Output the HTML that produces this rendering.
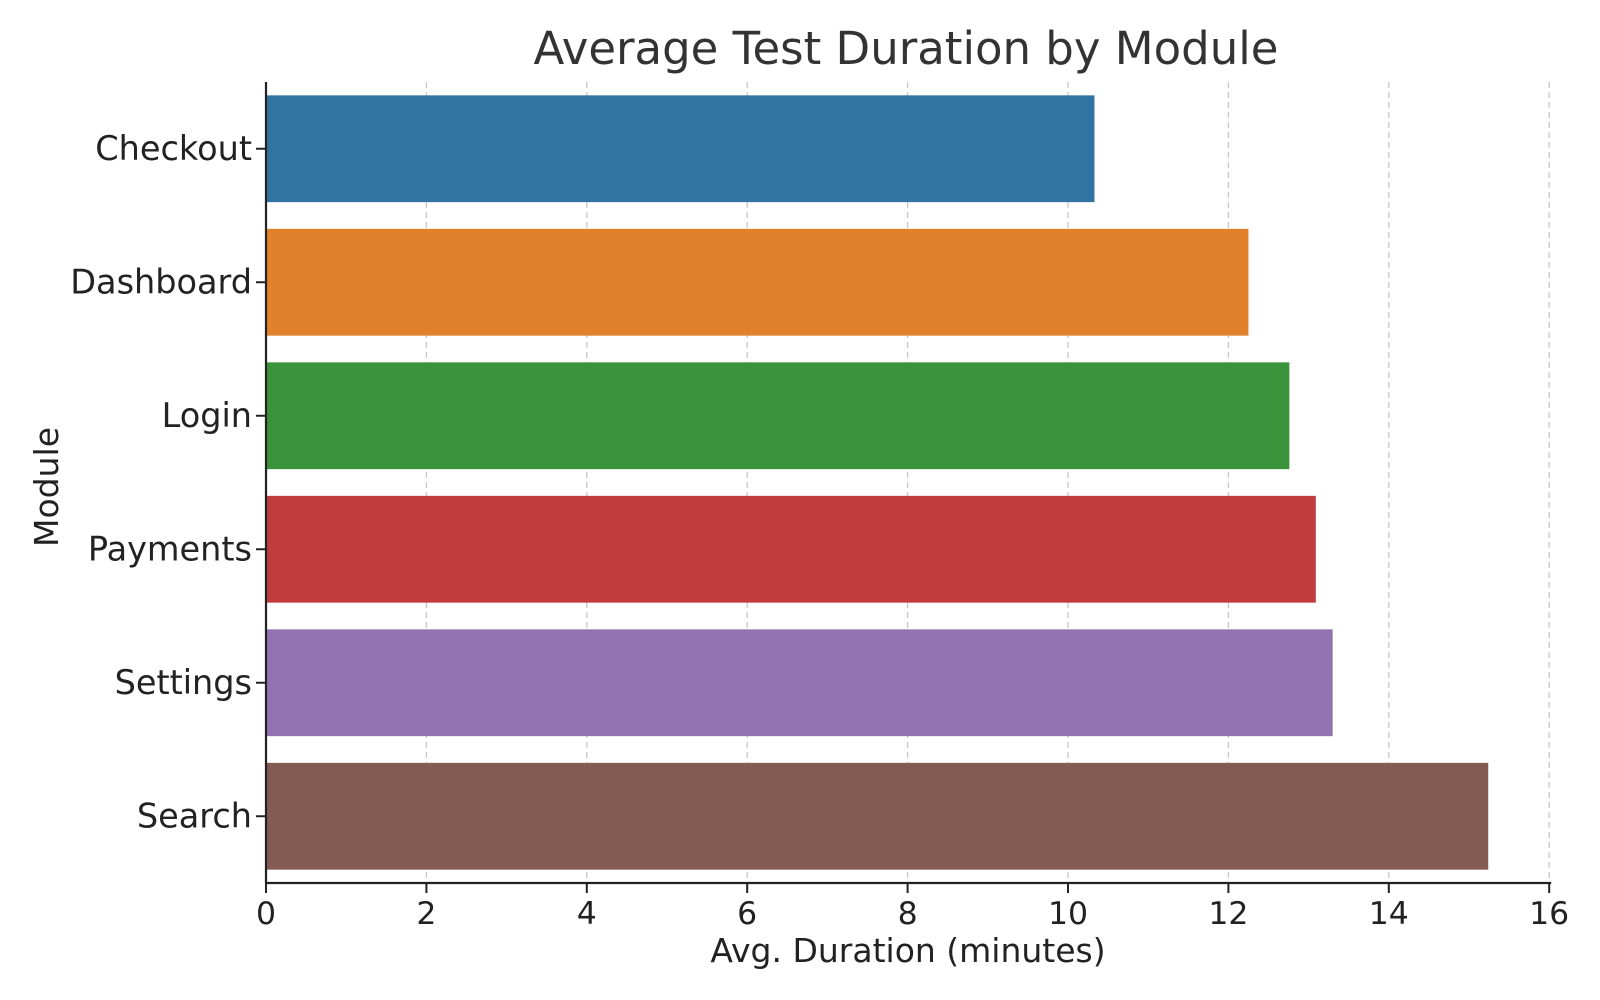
<!DOCTYPE html>
<html><head><meta charset="utf-8"><style>
html,body{margin:0;padding:0;background:#fff;}
svg{display:block;font-family:"DejaVu Sans","Liberation Sans",sans-serif;}
</style></head><body>
<svg id="chart" width="1600" height="1000" xmlns="http://www.w3.org/2000/svg">
<text x="906" y="64" font-size="45" fill="#333" text-anchor="middle">Average Test Duration by Module</text>
<g id="grid"></g><g id="bars"></g><g id="axes"></g>
<text x="908" y="962" font-size="33" fill="#222" text-anchor="middle">Avg. Duration (minutes)</text>
<text transform="translate(58,487) rotate(-90)" font-size="33" fill="#222" text-anchor="middle">Module</text>
</svg>
<script>
const categories = ["Checkout","Dashboard","Login","Payments","Settings","Search"];
const values = [10.33, 12.25, 12.76, 13.09, 13.30, 15.24];
const colors = ["#3274a1","#e1812c","#3a923a","#c03d3e","#9372b2","#845b53"];
const xTicks = [0,2,4,6,8,10,12,14,16];
const NS="http://www.w3.org/2000/svg";
const x0=266, xScale=80.2, plotTop=82, plotBottom=883, band=(plotBottom-plotTop)/6;
const xf=v=>x0+v*xScale;
const yc=i=>plotTop+(i+0.5)*band;
function mk(tag,attrs,parent){const e=document.createElementNS(NS,tag);for(const k in attrs)e.setAttribute(k,attrs[k]);parent.appendChild(e);return e;}
const grid=document.getElementById('grid'),bars=document.getElementById('bars'),axes=document.getElementById('axes');
xTicks.forEach(t=>{
  if(t>0){const g=mk('line',{x1:xf(t),x2:xf(t),y1:plotTop,y2:plotBottom,stroke:'#c8c8c8','stroke-width':1.3,'stroke-dasharray':'6,4'},grid);
  
  }
  const tk=mk('line',{x1:xf(t),x2:xf(t),y1:plotBottom,y2:plotBottom+10,stroke:'#222','stroke-width':2},axes);
  
  
  const tl=mk('text',{x:xf(t),y:plotBottom+41,'font-size':31.5,fill:'#222','text-anchor':'middle'},axes);
  tl.textContent=t;
  
  
});
categories.forEach((c,i)=>{
  const h=band*0.8;
  const r=mk('rect',{x:x0,y:yc(i)-h/2,width:xf(values[i])-x0,height:h,fill:colors[i]},bars);
  
  
  const tk=mk('line',{x1:x0-10,x2:x0,y1:yc(i),y2:yc(i),stroke:'#222','stroke-width':2},axes);
  
  
  const tl=mk('text',{x:x0-14,y:yc(i)+11,'font-size':33.5,fill:'#222','text-anchor':'end'},axes);
  tl.textContent=c;
  
  
});
const ya=mk('line',{x1:x0,x2:x0,y1:plotTop,y2:plotBottom+1,stroke:'#222','stroke-width':2.2},axes);


const xa=mk('line',{x1:x0-1,x2:xf(16)+2,y1:plotBottom,y2:plotBottom,stroke:'#222','stroke-width':2.2},axes);


</script>
</body></html>
